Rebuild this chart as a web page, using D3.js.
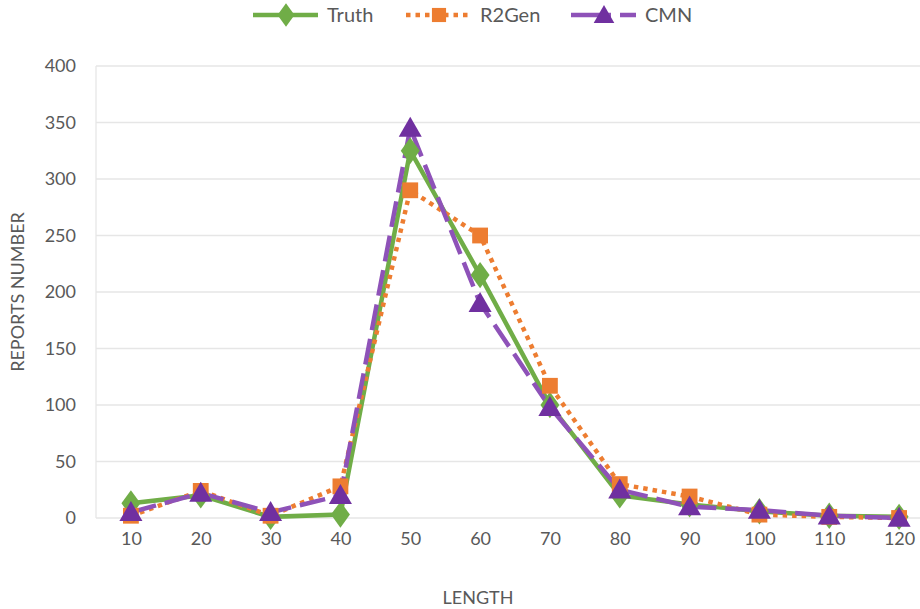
<!DOCTYPE html>
<html lang="en">
<head>
  <meta charset="UTF-8">
  <title>Report length distribution</title>
  <script src="https://d3js.org/d3.v7.min.js"></script>
  <style>
    body { margin: 0; background: #fff; }
    svg text { font-family: Lato, "Open Sans", sans-serif; fill: #595959; }
  </style>
</head>
<body>
<div id="chart"></div>
<script>
  // category labels on the x axis
  const lengths = [10, 20, 30, 40, 50, 60, 70, 80, 90, 100, 110, 120];
  const yTicks = [0, 50, 100, 150, 200, 250, 300, 350, 400];

  // values
  const truth = [13, 20, 1, 3, 325, 215, 100, 20, 12, 6, 2, 1];
  const r2gen = [2, 24, 2, 28, 290, 250, 117, 30, 19, 3, 1, 0];
  const cmn   = [5, 22, 5, 20, 345, 190, 98, 25, 10, 7, 2, 0];

  const width = 920, height = 609;
  const plot = { left: 96, right: 934, top: 66, bottom: 518 };

  const svg = d3.select('#chart').append('svg')
    .attr('width', width)
    .attr('height', height);

  const x = d3.scalePoint().domain(lengths).range([plot.left, plot.right]).padding(0.5);
  const y = d3.scaleLinear().domain([0, 400]).range([plot.bottom, plot.top]);

  // gridlines
  svg.append('g')
    .selectAll('line')
    .data(yTicks)
    .join('line')
    .attr('x1', plot.left).attr('x2', plot.right)
    .attr('y1', d => y(d)).attr('y2', d => y(d))
    .attr('stroke', '#e6e6e6').attr('stroke-width', 1.3);

  // left axis line
  svg.append('line')
    .attr('x1', plot.left).attr('x2', plot.left)
    .attr('y1', plot.top).attr('y2', plot.bottom)
    .attr('stroke', '#e6e6e6').attr('stroke-width', 1.3);

  // y axis labels
  const yAxis = svg.append('g')
    .attr('transform', `translate(${plot.left - 20},0)`)
    .call(d3.axisLeft(y).tickValues(yTicks).tickSize(0).tickPadding(0));
  yAxis.select('.domain').remove();
  yAxis.selectAll('text').style('font-size', '18px');

  // x axis labels
  const xAxis = svg.append('g')
    .attr('transform', `translate(0,${plot.bottom + 14})`)
    .call(d3.axisBottom(x).tickSize(0).tickPadding(0));
  xAxis.select('.domain').remove();
  xAxis.selectAll('text').style('font-size', '18px');

  // axis titles
  svg.append('text')
    .attr('x', 478).attr('y', 604)
    .attr('text-anchor', 'middle')
    .style('font-size', '18px')
    .text('LENGTH');

  svg.append('text')
    .attr('transform', 'translate(24,292) rotate(-90)')
    .attr('text-anchor', 'middle')
    .style('font-size', '18px')
    .text('REPORTS NUMBER');

  const series = [
    { name: 'Truth', values: truth, line: '#70AD47', marker: '#70AD47', dash: null, shape: d3.symbolDiamond, size: 200, legendX: 253 },
    { name: 'R2Gen', values: r2gen, line: '#ED7D31', marker: '#ED7D31', dash: '4.5,5', shape: d3.symbolSquare, size: 250, legendX: 406 },
    { name: 'CMN', values: cmn, line: '#8E52B8', marker: '#7030A0', dash: '26,9', shape: d3.symbolTriangle, size: 230, legendX: 571 }
  ];

  const line = d3.line()
    .x((d, i) => x(lengths[i]))
    .y(d => y(d));

  series.forEach(s => {
    svg.append('path')
      .datum(s.values)
      .attr('fill', 'none')
      .attr('stroke', s.line)
      .attr('stroke-width', 4.5)
      .attr('stroke-dasharray', s.dash)
      .attr('d', line);
  });

  series.forEach(s => {
    const sym = d3.symbol().type(s.shape).size(s.size);
    svg.append('g')
      .selectAll('path')
      .data(s.values)
      .join('path')
      .attr('transform', (d, i) => {
        const dy = s.shape === d3.symbolTriangle ? 2 : 0;
        const sc = s.shape === d3.symbolDiamond ? ' scale(1.25,1)' : '';
        return `translate(${x(lengths[i])},${y(d) + dy})${sc}`;
      })
      .attr('d', sym)
      .attr('fill', s.marker);
  });

  // legend
  const legend = svg.append('g');
  series.forEach(s => {
    const g = legend.append('g').attr('transform', `translate(${s.legendX},15)`);
    g.append('line')
      .attr('x1', 0).attr('x2', 65)
      .attr('stroke', s.line)
      .attr('stroke-width', 4.5)
      .attr('stroke-dasharray', s.shape === d3.symbolTriangle ? '40,9' : s.dash);
    const dy = s.shape === d3.symbolTriangle ? 2 : 0;
    const sc = s.shape === d3.symbolDiamond ? ' scale(1.25,1)' : '';
    g.append('path')
      .attr('transform', `translate(33,${dy})${sc}`)
      .attr('d', d3.symbol().type(s.shape).size(s.size * 0.8))
      .attr('fill', s.marker);
    g.append('text')
      .attr('x', 74).attr('y', 7)
      .style('font-size', '20px')
      .text(s.name);
  });
</script>
</body>
</html>
